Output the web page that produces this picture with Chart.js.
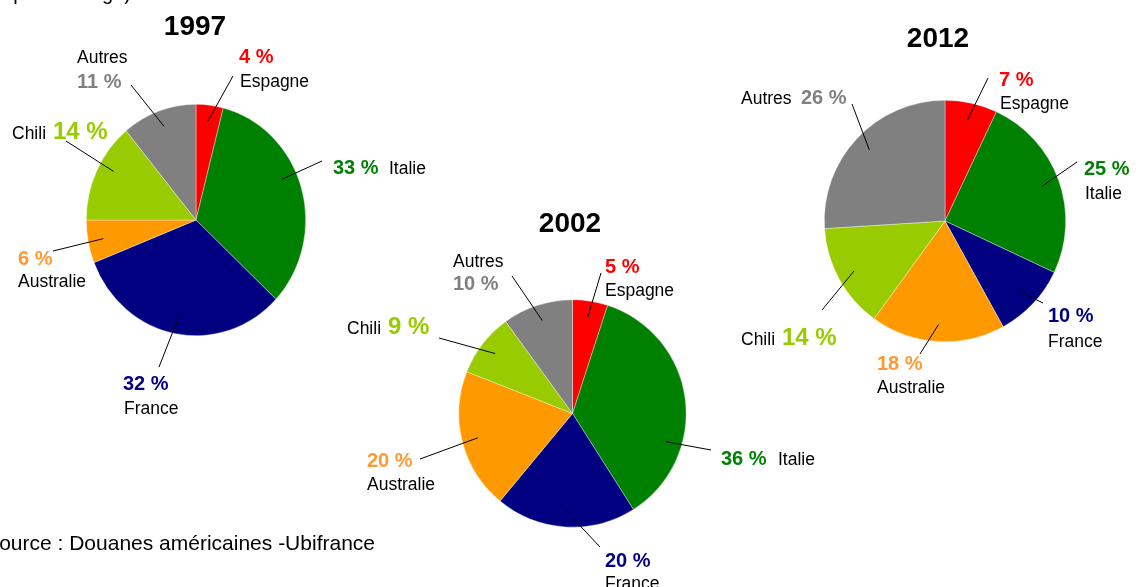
<!DOCTYPE html>
<html>
<head>
<meta charset="utf-8">
<script src="https://cdn.jsdelivr.net/npm/chart.js@4/dist/chart.umd.min.js"></script>
<style>
  html, body { margin: 0; padding: 0; background: #fff; overflow: hidden; }
  #page { position: relative; width: 1136px; height: 587px; }
  #page canvas { position: absolute; left: 0; top: 0; }
</style>
</head>
<body>
<div id="page">
  <canvas id="pie1997" width="1136" height="587"></canvas>
  <canvas id="pie2002" width="1136" height="587"></canvas>
  <canvas id="pie2012" width="1136" height="587"></canvas>
  <canvas id="notes" width="1136" height="587"></canvas>
</div>
<script>
// data
const countries = ['Espagne', 'Italie', 'France', 'Australie', 'Chili', 'Autres']
const years = ['1997', '2002', '2012']
const shares1997 = [4, 33, 32, 6, 14, 11]
const shares2002 = [5, 36, 20, 20, 9, 10]
const shares2012 = [7, 25, 10, 18, 14, 26]
const sourceText = 'Source : Douanes américaines -Ubifrance'

const sliceColors = ['#ff0000', '#008000', '#000080', '#ff9900', '#99cc00', '#808080']
const pctColors = ['#ff0000', '#008000', '#000080', '#ff9933', '#99cc00', '#808080']

const W = 1136
const H = 587
const FONT = '"Liberation Sans", Arial, sans-serif'

// where each pie sits and where its labels go (pct / name / outer end of leader line)
const layouts = {
  1997: {
    cx: 196, cy: 220, r: 110, sy: 1.055, title: [195, 35],
    labels: [
      { pct: [239, 63], name: [240, 87], line: [233, 76] },
      { pct: [333, 174], name: [389, 174], line: [322, 161], off: -8 },
      { pct: [123, 390], name: [124, 414], line: [159, 367] },
      { pct: [18, 265], name: [18, 287], line: [53, 251] },
      { pct: [53, 139], name: [12, 139], line: [66, 141], off: 4 },
      { pct: [77, 88], name: [77, 63], line: [131, 85] }
    ]
  },
  2002: {
    cx: 572.5, cy: 413.5, r: 114, sy: 1, title: [570, 232],
    labels: [
      { pct: [605, 273], name: [605, 296], line: [601, 273] },
      { pct: [721, 465], name: [778, 465], line: [711, 450], off: 24 },
      { pct: [605, 567], name: [605, 589], line: [600, 547] },
      { pct: [367, 467], name: [367, 490], line: [420, 459] },
      { pct: [388, 334], name: [347, 334], line: [439, 338] },
      { pct: [453, 290], name: [453, 267], line: [512, 276] }
    ]
  },
  2012: {
    cx: 945, cy: 221, r: 121, sy: 1, title: [938, 47],
    labels: [
      { pct: [999, 86], name: [1000, 109], line: [988, 78] },
      { pct: [1084, 175], name: [1085, 199], line: [1077, 162] },
      { pct: [1048, 322], name: [1048, 347], line: [1043, 303] },
      { pct: [877, 370], name: [877, 393], line: [920, 354] },
      { pct: [782, 345], name: [741, 345], line: [822, 310] },
      { pct: [801, 104], name: [741, 104], line: [852, 104] }
    ]
  }
}

// squash/stretch the slices only (the 1997 pie is a bit taller than wide)
const stretchPlugin = {
  id: 'stretch',
  beforeDatasetsDraw (chart, args, opts) {
    const ctx = chart.ctx
    ctx.save()
    ctx.translate(opts.cx, opts.cy)
    ctx.scale(1, opts.sy)
    ctx.translate(-opts.cx, -opts.cy)
  },
  afterDatasetsDraw (chart) {
    chart.ctx.restore()
  }
}

const labelsPlugin = {
  id: 'pieLabels',
  afterDraw (chart, args, opts) {
    const ctx = chart.ctx
    const lay = opts.layout
    const values = chart.data.datasets[0].data
    const arcs = chart.getDatasetMeta(0).data
    ctx.save()

    // title
    ctx.fillStyle = '#000'
    ctx.font = 'bold 28px ' + FONT
    ctx.textAlign = 'center'
    ctx.textBaseline = 'alphabetic'
    ctx.fillText(opts.year, lay.title[0], lay.title[1])

    ctx.textAlign = 'left'
    arcs.forEach((arc, i) => {
      const lab = lay.labels[i]
      const p = arc.getProps(['x', 'y', 'startAngle', 'endAngle', 'outerRadius'], true)
      const mid = (p.startAngle + p.endAngle) / 2 + (lab.off || 0) * Math.PI / 180
      const ix = p.x + Math.cos(mid) * p.outerRadius * 0.86
      const iy = p.y + Math.sin(mid) * p.outerRadius * 0.86 * lay.sy

      ctx.strokeStyle = '#000'
      ctx.lineWidth = 1
      ctx.beginPath()
      ctx.moveTo(lab.line[0], lab.line[1])
      ctx.lineTo(ix, iy)
      ctx.stroke()

      ctx.fillStyle = pctColors[i]
      ctx.font = (countries[i] === 'Chili' ? 'bold 24px ' : 'bold 20px ') + FONT
      ctx.fillText(values[i] + ' %', lab.pct[0], lab.pct[1])

      ctx.fillStyle = '#000'
      ctx.font = '17.5px ' + FONT
      ctx.fillText(chart.data.labels[i], lab.name[0], lab.name[1])
    })
    ctx.restore()
  }
}

function makePie (year, shares) {
  const lay = layouts[year]
  const ctx = document.getElementById('pie' + year).getContext('2d')
  return new Chart(ctx, {
    type: 'pie',
    data: {
      labels: countries,
      datasets: [{
        data: shares,
        backgroundColor: sliceColors,
        borderColor: 'rgba(255,255,255,0.6)',
        borderWidth: 0.6
      }]
    },
    options: {
      responsive: false,
      animation: false,
      events: [],
      layout: {
        padding: {
          left: lay.cx - lay.r,
          right: W - (lay.cx + lay.r),
          top: lay.cy - lay.r,
          bottom: H - (lay.cy + lay.r)
        }
      },
      plugins: {
        legend: { display: false },
        tooltip: { enabled: false },
        stretch: { cx: lay.cx, cy: lay.cy, sy: lay.sy },
        pieLabels: { year: year, layout: lay }
      }
    },
    plugins: [stretchPlugin, labelsPlugin]
  })
}

makePie(years[0], shares1997)
makePie(years[1], shares2002)
makePie(years[2], shares2012)

// cut-off slide texts (header remnant at the top, source at the bottom left)
const n = document.getElementById('notes').getContext('2d')
n.fillStyle = '#000'
n.textAlign = 'right'
n.font = '20px ' + FONT
n.fillText('(en pourcentage)', 131, 0)
n.font = '21px ' + FONT
n.fillText(sourceText, 375, 550)
</script>
</body>
</html>
